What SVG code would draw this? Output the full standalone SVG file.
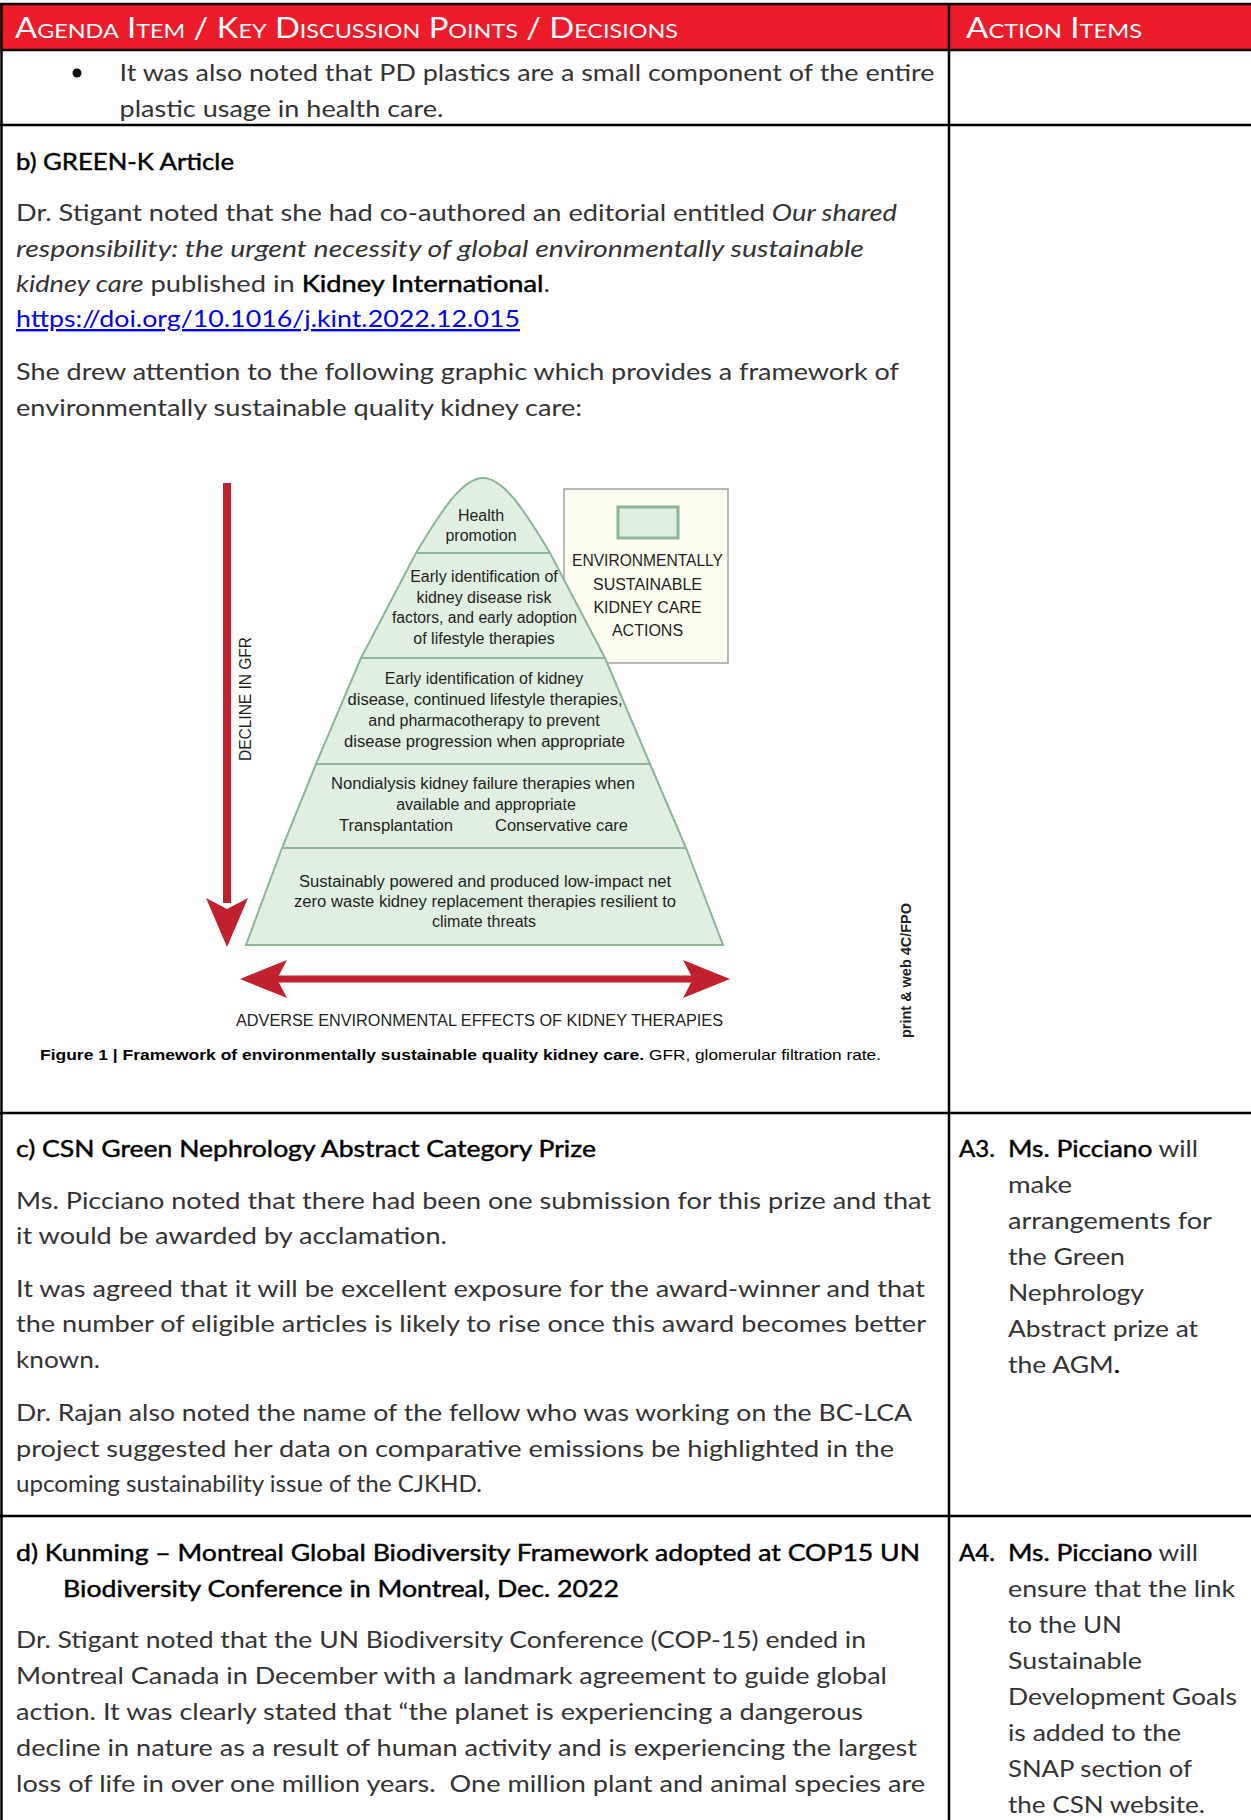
<svg xmlns="http://www.w3.org/2000/svg" width="1251" height="1820" viewBox="0 0 1251 1820">
<style>
.b{font-family:Lato,"Open Sans",sans-serif;font-size:24px;font-weight:400;fill:#333}
.h{font-family:Lato,"Open Sans",sans-serif;font-size:24px;font-weight:400;fill:#000;stroke:#000;stroke-width:0.45}
.sb{font-weight:400;fill:#000;stroke:#000;stroke-width:0.45}
.it{font-style:italic}
.hd{font-family:Lato,"Open Sans",sans-serif;font-size:28px;font-weight:400;fill:#fff;font-variant:small-caps}
.f{font-family:"Liberation Sans",Arial,sans-serif;font-size:16px;fill:#231f20;text-anchor:middle}
.fl{font-family:"Liberation Sans",Arial,sans-serif;font-size:16px;fill:#231f20}
.cap{font-family:"Liberation Sans",Arial,sans-serif;font-size:15px;fill:#000}
.grid{stroke:#000;stroke-width:2.5;fill:none}
.band{stroke:#8db59a;stroke-width:2;fill:none}
.red{fill:#c1202f}
</style>
<rect x="0" y="0" width="1251" height="1820" fill="#fff"/>
<g id="table">
<rect x="0" y="4" width="1251" height="46" fill="#ec1c2a"/>
<line class="grid" x1="0" y1="4" x2="1251" y2="4"/>
<line class="grid" x1="0" y1="50" x2="1251" y2="50"/>
<line class="grid" x1="0" y1="125" x2="1251" y2="125"/>
<line class="grid" x1="0" y1="1113" x2="1251" y2="1113"/>
<line class="grid" x1="0" y1="1516" x2="1251" y2="1516"/>
<line class="grid" x1="1.5" y1="4" x2="1.5" y2="1820"/>
<line class="grid" x1="949" y1="4" x2="949" y2="1820"/>
</g>
<g id="header">
<text class="hd" x="15" y="38" textLength="663" lengthAdjust="spacingAndGlyphs">Agenda Item / Key Discussion Points / Decisions</text>
<text class="hd" x="966" y="38" textLength="176" lengthAdjust="spacingAndGlyphs">Action Items</text>
</g>
<g id="row1">
<circle cx="77" cy="73" r="4.5" fill="#111"/>
<text class="b" x="119.5" y="81" textLength="815" lengthAdjust="spacingAndGlyphs">It was also noted that PD plastics are a small component of the entire</text>
<text class="b" x="119.5" y="117" textLength="324" lengthAdjust="spacingAndGlyphs">plastic usage in health care.</text>
</g>
<g id="row2">
<text class="h" x="16" y="170" textLength="218" lengthAdjust="spacingAndGlyphs">b) GREEN-K Article</text>
<text class="b" x="16" y="221" textLength="881" lengthAdjust="spacingAndGlyphs">Dr. Stigant noted that she had co-authored an editorial entitled <tspan class="it">Our shared</tspan></text>
<text class="b it" x="16" y="257" textLength="848" lengthAdjust="spacingAndGlyphs">responsibility: the urgent necessity of global environmentally sustainable</text>
<text class="b" x="16" y="292" textLength="534" lengthAdjust="spacingAndGlyphs"><tspan class="it">kidney care</tspan> published in <tspan class="sb">Kidney International</tspan>.</text>
<text class="b" x="16" y="327" textLength="504" lengthAdjust="spacingAndGlyphs" style="fill:#0000ee;text-decoration:underline">https://doi.org/10.1016/j.kint.2022.12.015</text>
<text class="b" x="16" y="380" textLength="883" lengthAdjust="spacingAndGlyphs">She drew attention to the following graphic which provides a framework of</text>
<text class="b" x="16" y="416" textLength="566" lengthAdjust="spacingAndGlyphs">environmentally sustainable quality kidney care:</text>
</g>
<g id="figure">
<g id="legend">
<rect x="564" y="489" width="164" height="174" fill="#fdfdf2" stroke="#a3a3a3" stroke-width="1.5"/>
<rect x="618" y="507" width="60" height="31" fill="#e1efe3" stroke="#8db59a" stroke-width="3"/>
<text class="f" x="647.5" y="566" textLength="151" lengthAdjust="spacingAndGlyphs">ENVIRONMENTALLY</text>
<text class="f" x="647.5" y="589.5">SUSTAINABLE</text>
<text class="f" x="647.5" y="613">KIDNEY CARE</text>
<text class="f" x="647.5" y="636">ACTIONS</text>
</g>
<g id="pyramid">
<path d="M246,945 L282,848 L316,764 L361,658 L416,553 C440,513 462,478 483,478 C504,478 526,513 550,553 L605,658 L650,764 L686,848 L723,945 Z" fill="#e1efe3" stroke="#8db59a" stroke-width="2"/>
<line class="band" x1="416" y1="553" x2="550" y2="553"/>
<line class="band" x1="361" y1="658" x2="605" y2="658"/>
<line class="band" x1="316" y1="764" x2="650" y2="764"/>
<line class="band" x1="282" y1="848" x2="686" y2="848"/>
<text class="f" x="481" y="521">Health</text>
<text class="f" x="481" y="541">promotion</text>
<text class="f" x="484" y="582">Early identification of</text>
<text class="f" x="484" y="603">kidney disease risk</text>
<text class="f" x="484.5" y="623" textLength="185" lengthAdjust="spacingAndGlyphs">factors, and early adoption</text>
<text class="f" x="484" y="644">of lifestyle therapies</text>
<text class="f" x="484" y="684">Early identification of kidney</text>
<text class="f" x="485" y="705" textLength="275" lengthAdjust="spacingAndGlyphs">disease, continued lifestyle therapies,</text>
<text class="f" x="484" y="726">and pharmacotherapy to prevent</text>
<text class="f" x="484.5" y="747" textLength="281" lengthAdjust="spacingAndGlyphs">disease progression when appropriate</text>
<text class="f" x="483" y="789" textLength="304" lengthAdjust="spacingAndGlyphs">Nondialysis kidney failure therapies when</text>
<text class="f" x="486" y="810">available and appropriate</text>
<text class="fl" x="339" y="831" textLength="114" lengthAdjust="spacingAndGlyphs">Transplantation</text>
<text class="fl" x="495" y="831" textLength="133" lengthAdjust="spacingAndGlyphs">Conservative care</text>
<text class="f" x="485" y="887" textLength="372" lengthAdjust="spacingAndGlyphs">Sustainably powered and produced low-impact net</text>
<text class="f" x="485" y="907" textLength="382" lengthAdjust="spacingAndGlyphs">zero waste kidney replacement therapies resilient to</text>
<text class="f" x="484" y="927">climate threats</text>
</g>
<g id="connectors">
<rect class="red" x="223" y="483" width="8" height="420"/>
<polygon class="red" points="206,898 227,909 248,898 227,947"/>
<rect class="red" x="270" y="975.5" width="430" height="7"/>
<polygon class="red" points="240,979 287,960 277,979 287,998"/>
<polygon class="red" points="730,979 683,960 693,979 683,998"/>
</g>
<text class="fl" transform="translate(251,761) rotate(-90)" textLength="124" lengthAdjust="spacingAndGlyphs">DECLINE IN GFR</text>
<text class="fl" x="236" y="1026" textLength="487" lengthAdjust="spacingAndGlyphs">ADVERSE ENVIRONMENTAL EFFECTS OF KIDNEY THERAPIES</text>
<text class="cap" x="40" y="1060" textLength="604" lengthAdjust="spacingAndGlyphs" font-weight="bold">Figure 1 | Framework of environmentally sustainable quality kidney care.</text>
<text class="cap" x="649" y="1060" textLength="232" lengthAdjust="spacingAndGlyphs">GFR, glomerular filtration rate.</text>
<text class="fl" transform="translate(911,1038) rotate(-90)" style="font-size:14px;font-weight:bold" textLength="135" lengthAdjust="spacingAndGlyphs">print &amp; web 4C/FPO</text>
</g>
<g id="row3">
<text class="h" x="16" y="1157" textLength="580" lengthAdjust="spacingAndGlyphs">c) CSN Green Nephrology Abstract Category Prize</text>
<text class="b" x="16" y="1209" textLength="915" lengthAdjust="spacingAndGlyphs">Ms. Picciano noted that there had been one submission for this prize and that</text>
<text class="b" x="16" y="1244" textLength="431" lengthAdjust="spacingAndGlyphs">it would be awarded by acclamation.</text>
<text class="b" x="16" y="1297" textLength="909" lengthAdjust="spacingAndGlyphs">It was agreed that it will be excellent exposure for the award-winner and that</text>
<text class="b" x="16" y="1332" textLength="910" lengthAdjust="spacingAndGlyphs">the number of eligible articles is likely to rise once this award becomes better</text>
<text class="b" x="16" y="1368" textLength="84" lengthAdjust="spacingAndGlyphs">known.</text>
<text class="b" x="16" y="1421" textLength="896" lengthAdjust="spacingAndGlyphs">Dr. Rajan also noted the name of the fellow who was working on the BC-LCA</text>
<text class="b" x="16" y="1457" textLength="878" lengthAdjust="spacingAndGlyphs">project suggested her data on comparative emissions be highlighted in the</text>
<text class="b" x="16" y="1492" textLength="466" lengthAdjust="spacingAndGlyphs">upcoming sustainability issue of the CJKHD.</text>
</g>
<g id="action3">
<text class="h" x="959" y="1157">A3.</text>
<text class="b" x="1008" y="1157" textLength="190" lengthAdjust="spacingAndGlyphs"><tspan class="sb">Ms. Picciano</tspan> will</text>
<text class="b" x="1008" y="1193" textLength="64" lengthAdjust="spacingAndGlyphs">make</text>
<text class="b" x="1008" y="1229" textLength="204" lengthAdjust="spacingAndGlyphs">arrangements for</text>
<text class="b" x="1008" y="1265" textLength="117" lengthAdjust="spacingAndGlyphs">the Green</text>
<text class="b" x="1008" y="1301" textLength="136" lengthAdjust="spacingAndGlyphs">Nephrology</text>
<text class="b" x="1008" y="1337" textLength="190" lengthAdjust="spacingAndGlyphs">Abstract prize at</text>
<text class="b" x="1008" y="1373" textLength="112" lengthAdjust="spacingAndGlyphs">the AGM<tspan class="sb">.</tspan></text>
</g>
<g id="row4">
<text class="h" x="16" y="1561" textLength="904" lengthAdjust="spacingAndGlyphs">d) Kunming – Montreal Global Biodiversity Framework adopted at COP15 UN</text>
<text class="h" x="63" y="1597" textLength="556" lengthAdjust="spacingAndGlyphs">Biodiversity Conference in Montreal, Dec. 2022</text>
<text class="b" x="16" y="1648" textLength="850" lengthAdjust="spacingAndGlyphs">Dr. Stigant noted that the UN Biodiversity Conference (COP-15) ended in</text>
<text class="b" x="16" y="1684" textLength="871" lengthAdjust="spacingAndGlyphs">Montreal Canada in December with a landmark agreement to guide global</text>
<text class="b" x="16" y="1720" textLength="847" lengthAdjust="spacingAndGlyphs">action. It was clearly stated that “the planet is experiencing a dangerous</text>
<text class="b" x="16" y="1756" textLength="901" lengthAdjust="spacingAndGlyphs">decline in nature as a result of human activity and is experiencing the largest</text>
<text class="b" x="16" y="1792" textLength="909" lengthAdjust="spacingAndGlyphs" xml:space="preserve">loss of life in over one million years.  One million plant and animal species are</text>
</g>
<g id="action4">
<text class="h" x="959" y="1561">A4.</text>
<text class="b" x="1008" y="1561" textLength="190" lengthAdjust="spacingAndGlyphs"><tspan class="sb">Ms. Picciano</tspan> will</text>
<text class="b" x="1008" y="1597" textLength="227" lengthAdjust="spacingAndGlyphs">ensure that the link</text>
<text class="b" x="1008" y="1633" textLength="114" lengthAdjust="spacingAndGlyphs">to the UN</text>
<text class="b" x="1008" y="1669" textLength="134" lengthAdjust="spacingAndGlyphs">Sustainable</text>
<text class="b" x="1008" y="1705" textLength="229" lengthAdjust="spacingAndGlyphs">Development Goals</text>
<text class="b" x="1008" y="1741" textLength="173" lengthAdjust="spacingAndGlyphs">is added to the</text>
<text class="b" x="1008" y="1777" textLength="184" lengthAdjust="spacingAndGlyphs">SNAP section of</text>
<text class="b" x="1008" y="1813" textLength="197" lengthAdjust="spacingAndGlyphs">the CSN website.</text>
</g>
</svg>
